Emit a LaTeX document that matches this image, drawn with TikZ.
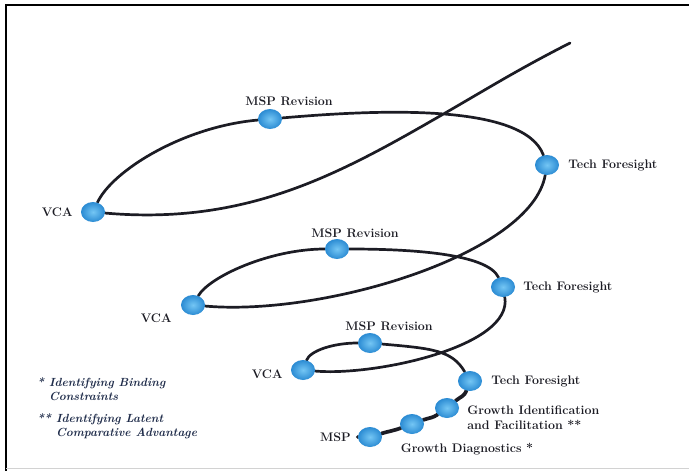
\documentclass[tikz,border=0pt]{standalone}
\usepackage{tikz}
\usepackage{xcolor}
\usetikzlibrary{shapes.geometric,positioning,backgrounds}
\definecolor{inkc}{HTML}{1C1C24}
\definecolor{notec}{HTML}{1F2C4A}
\definecolor{dotlightc}{HTML}{74C6F4}
\definecolor{dotdarkc}{HTML}{2B8BD3}
\tikzstyle{stage} = [
    ellipse,
    minimum width=24pt,
    minimum height=20pt,
    inner sep=0pt,
    inner color=dotlightc,
    outer color=dotdarkc
    ]
\tikzstyle{stagelabel} = [
    text=inkc,
    font=\fontsize{12.4}{15}\selectfont\bfseries,
    inner sep=0pt,
    align=left
    ]
\tikzstyle{note} = [
    text=notec,
    font=\fontsize{11.8}{14}\selectfont\bfseries\itshape,
    inner sep=0pt,
    align=left,
    anchor=north west
    ]
\tikzstyle{spiral} = [
    draw=inkc,
    line width=2.7pt,
    line cap=round
    ]

\begin{document}
\begin{tikzpicture}[x=1pt,y=1pt]
\useasboundingbox (0,0) rectangle (689,-471);
\draw[line width=2.4pt] (6,-471) -- (6,-5) -- (689,-5);
\draw[gray!35, line width=1pt] (6,-468.5) -- (689,-468.5);

% stages, from the bottom up
\node[stage] (msp) at (370,-437) {};
\node[stage] (gd) at (412,-424) {};
\node[stage] (gi) at (447,-408) {};
\node[stage] (tf3) at (470,-381) {};
\node[stage] (mspr3) at (370,-343) {};
\node[stage] (vca3) at (303,-370) {};
\node[stage] (tf2) at (503,-287) {};
\node[stage] (mspr2) at (337,-249) {};
\node[stage] (vca2) at (193,-305) {};
\node[stage] (tf1) at (547,-165) {};
\node[stage] (mspr1) at (270,-119) {};
\node[stage] (vca1) at (93,-212) {};
\coordinate (mspend) at (358,-437);
\coordinate (cross1) at (440,-116);
\coordinate (top) at (570,-43);

\begin{scope}[on background layer]
\draw[spiral, line width=3.7pt] (mspend) -- (msp)
    to[out=17,in=-160] (gd)
    to[out=20,in=-145] (gi)
    to[out=40,in=-110] (tf3);
\draw[spiral] (tf3)
    to[out=120,in=-5,out distance=25pt,in distance=50pt] (mspr3)
    to[out=180,in=70,out distance=25pt,in distance=10pt] (vca3)
    to[out=-5,in=-80,out distance=60pt,in distance=50pt] (tf2)
    to[out=115,in=0,out distance=25pt,in distance=70pt] (mspr2)
    to[out=180,in=60,out distance=55pt,in distance=22pt] (vca2)
    to[out=-5,in=-100,out distance=120pt,in distance=80pt] (tf1)
    to[out=110,in=5,out distance=55pt,in distance=100pt] (mspr1)
    to[out=185,in=65,out distance=75pt,in distance=35pt] (vca1)
    to[out=-5,in=-150,out distance=140pt,in distance=120pt] (cross1)
    to[out=30,in=-153] (top);
\end{scope}

% labels
\node[stagelabel, left=7pt of msp] (msplabel) {MSP};
\node[stagelabel, below=9pt of gd, xshift=55pt] (gdlabel) {Growth Diagnostics *};
\node[stagelabel, right=8pt of gi, yshift=-10pt] (gilabel) {Growth Identification\\and Facilitation **};
\node[stagelabel, right=9pt of tf3] (tf3label) {Tech Foresight};
\node[stagelabel, above=2pt of mspr3, xshift=19pt] (mspr3label) {MSP Revision};
\node[stagelabel, left=8pt of vca3, yshift=-4pt] (vca3label) {VCA};
\node[stagelabel, right=8pt of tf2] (tf2label) {Tech Foresight};
\node[stagelabel, above=1pt of mspr2, xshift=18pt] (mspr2label) {MSP Revision};
\node[stagelabel, left=9pt of vca2, yshift=-13pt] (vca2label) {VCA};
\node[stagelabel, right=9pt of tf1] (tf1label) {Tech Foresight};
\node[stagelabel, above=3pt of mspr1, xshift=19pt] (mspr1label) {MSP Revision};
\node[stagelabel, left=8pt of vca1] (vca1label) {VCA};

\node[note] (note1) at (37,-377) {*~Identifying Binding\\\phantom{*~}Constraints};
\node[note] (note2) at (37,-413) {**~Identifying Latent\\\phantom{**~}Comparative Advantage};
\end{tikzpicture}
\end{document}
